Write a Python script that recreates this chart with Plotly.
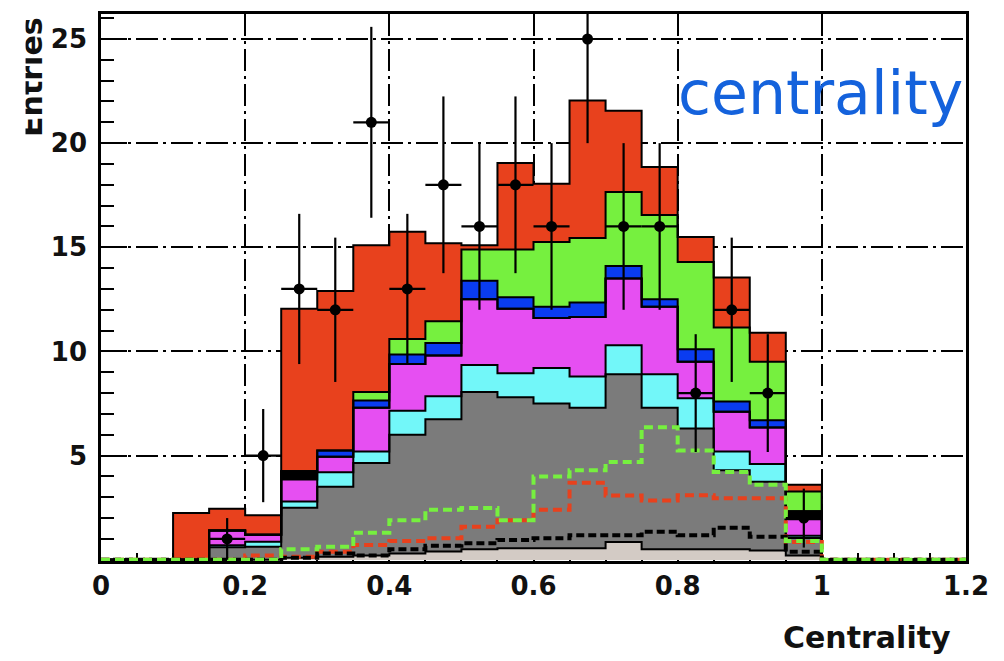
import numpy as np
import plotly.graph_objects as go

# Binning: 24 bins of width 0.05 covering 0 .. 1.2
x_min, x_max, bin_width = 0.0, 1.2, 0.05
n_bins = 24

# Stacked background components (entries per bin, bottom to top)
light = [0, 0, 0, 0, 0, 0.10, 0.15, 0.20, 0.30, 0.40, 0.50, 0.55, 0.55, 0.55, 0.85, 0.50, 0.50, 0.50, 0.45, 0.20, 0, 0, 0, 0]
gray = [0, 0, 0, 0.60, 0.63, 2.40, 3.35, 4.45, 5.70, 6.35, 7.55, 7.25, 6.95, 6.75, 8.05, 6.80, 5.80, 3.80, 3.30, 0.85, 0, 0, 0, 0]
cyan = [0, 0, 0, 0.10, 0.24, 0.30, 0.70, 0.55, 1.15, 1.10, 1.30, 1.15, 1.70, 1.50, 1.40, 1.60, 1.45, 0.90, 0.85, 0.10, 0, 0, 0, 0]
magenta = [0, 0, 0, 0.70, 0.33, 1.05, 0.75, 2.10, 2.25, 1.95, 3.15, 3.10, 2.40, 2.85, 3.20, 3.25, 1.75, 1.90, 1.75, 0.80, 0, 0, 0, 0]
black = [0, 0, 0, 0, 0, 0.40, 0, 0, 0, 0, 0, 0, 0, 0, 0, 0, 0, 0, 0, 0.38, 0, 0, 0, 0]
blue = [0, 0, 0, 0, 0, 0, 0.30, 0.35, 0.45, 0.60, 0.90, 0.55, 0.55, 0.70, 0.60, 0.35, 0.60, 0.50, 0.35, 0, 0, 0, 0, 0]
green = [0, 0, 0, 0, 0, 0, 0, 0.40, 0.75, 1.05, 1.50, 2.30, 3.10, 3.10, 3.55, 4.05, 4.20, 3.55, 2.80, 0.95, 0, 0, 0, 0]
red = [0, 0, 2.25, 1.05, 0.94, 7.80, 7.65, 7.05, 5.15, 3.75, 0.20, 4.15, 2.80, 6.60, 3.90, 2.30, 1.20, 2.40, 1.40, 0.32, 0, 0, 0, 0]

# Overlaid (unstacked) signal shapes
sig_green = [0, 0, 0, 0, 0, 0.50, 0.62, 1.30, 1.90, 2.40, 2.49, 1.90, 4.00, 4.30, 4.69, 6.36, 5.24, 4.21, 3.60, 0.90, 0, 0, 0, 0]
sig_red = [0, 0, 0, 0, 0.20, 0.15, 0.39, 0.71, 0.90, 1.03, 1.58, 1.90, 2.40, 3.70, 3.09, 2.85, 3.10, 2.95, 2.95, 0.85, 0, 0, 0, 0]
sig_black = [0, 0, 0, 0, 0, 0.10, 0.30, 0.20, 0.50, 0.67, 0.79, 0.95, 1.03, 1.18, 1.18, 1.35, 1.18, 1.54, 1.10, 0.39, 0, 0, 0, 0]

# Observed counts per bin
data_counts = [0, 0, 0, 1, 5, 13, 12, 21, 13, 18, 16, 18, 16, 25, 16, 16, 8, 12, 8, 2, 0, 0, 0, 0]

x_tick_vals = [0, 0.2, 0.4, 0.6, 0.8, 1.0, 1.2]
x_tick_text = ["0", "0.2", "0.4", "0.6", "0.8", "1", "1.2"]
y_tick_vals = [5, 10, 15, 20, 25]
y_tick_text = ["5", "10", "15", "20", "25"]

edges = x_min + bin_width * np.arange(n_bins + 1)
centers = edges[:-1] + bin_width / 2

layers = [
    (light, "#d3cbc5"),
    (gray, "#7b7b7b"),
    (cyan, "#72f7f9"),
    (magenta, "#e64ff2"),
    (black, "#000000"),
    (blue, "#0a3cf0"),
    (green, "#76f03f"),
    (red, "#e8411d"),
]

fig = go.Figure()

# Filled stack
for vals, col in layers:
    fig.add_trace(go.Bar(
        x=centers, y=vals, width=bin_width,
        marker=dict(color=col, line=dict(width=0)),
        showlegend=False, hoverinfo="skip",
    ))


def step(vals):
    v = list(vals)
    return list(edges), v + [v[-1]]


# Black outline on top of every stacked component
cum = np.zeros(n_bins)
for vals, col in layers:
    cum = cum + np.array(vals, dtype=float)
    sx, sy = step(cum)
    fig.add_trace(go.Scatter(
        x=sx, y=sy, mode="lines", line=dict(color="black", width=2, shape="hv"),
        showlegend=False, hoverinfo="skip",
    ))

# Dashed signal overlays
for vals, col, dash in [
    (sig_red, "#e8411d", "9px,5px"),
    (sig_black, "#000000", "8px,4px"),
    (sig_green, "#76f03f", "9px,5px"),
]:
    sx, sy = step(vals)
    fig.add_trace(go.Scatter(
        x=sx, y=sy, mode="lines",
        line=dict(color=col, width=4, shape="hv", dash=dash),
        showlegend=False, hoverinfo="skip",
    ))

# Data points with Poisson errors
counts = np.array(data_counts, dtype=float)
mask = counts > 0
fig.add_trace(go.Scatter(
    x=centers[mask], y=counts[mask], mode="markers",
    marker=dict(color="black", size=11),
    error_y=dict(type="data", array=np.sqrt(counts[mask]), width=0, thickness=2.2, color="black"),
    error_x=dict(type="constant", value=bin_width / 2, width=0, thickness=2.2, color="black"),
    showlegend=False, hoverinfo="skip",
))

axis_font = dict(family="DejaVu Sans", size=26, color="#111111", weight="bold")

fig.update_layout(
    width=1004, height=661,
    margin=dict(l=101, r=38, t=11, b=100),
    paper_bgcolor="white", plot_bgcolor="white",
    barmode="stack", bargap=0,
    showlegend=False,
    xaxis=dict(
        range=[x_min, x_max], tickvals=x_tick_vals, ticktext=x_tick_text,
        ticks="inside", ticklen=16, tickwidth=2, tickcolor="black",
        tickfont=axis_font,
        showline=True, linecolor="black", linewidth=2.5, mirror=True,
        showgrid=True, gridcolor="black", gridwidth=2, griddash="22px,5px,3px,5px",
        zeroline=False, layer="below traces",
        minor=dict(dtick=bin_width, ticks="inside", ticklen=8, tickwidth=2, tickcolor="black", showgrid=False),
    ),
    yaxis=dict(
        range=[-0.06, 26.2], tickvals=y_tick_vals, ticktext=y_tick_text,
        ticks="inside", ticklen=26, tickwidth=2, tickcolor="black",
        tickfont=axis_font, ticklabelstandoff=6,
        showline=True, linecolor="black", linewidth=2.5, mirror=True,
        showgrid=True, gridcolor="black", gridwidth=2, griddash="22px,5px,3px,5px",
        zeroline=False, layer="below traces",
        minor=dict(dtick=1, ticks="inside", ticklen=13, tickwidth=2, tickcolor="black", showgrid=False),
    ),
    annotations=[
        dict(text="Centrality", xref="paper", yref="paper", x=0.985, y=-0.14,
             xanchor="right", yanchor="middle", showarrow=False,
             font=dict(family="DejaVu Sans", size=30, color="#111111", weight="bold")),
        dict(text="Entries", xref="paper", yref="paper", x=-0.0798, y=0.885,
             xanchor="center", yanchor="middle", textangle=-90, showarrow=False,
             font=dict(family="DejaVu Sans", size=30, color="#111111", weight="bold")),
        dict(text=" ", xref="paper", yref="paper", x=-0.1023, y=0.8836,
             xanchor="center", yanchor="middle", showarrow=False,
             width=25, height=160, bgcolor="white", borderpad=0),
        dict(text="centrality", xref="paper", yref="paper", x=0.665, y=0.856,
             xanchor="left", yanchor="middle", showarrow=False,
             font=dict(family="DejaVu Sans", size=60, color="#1462dc")),
    ],
)

fig.write_html("out.html")
